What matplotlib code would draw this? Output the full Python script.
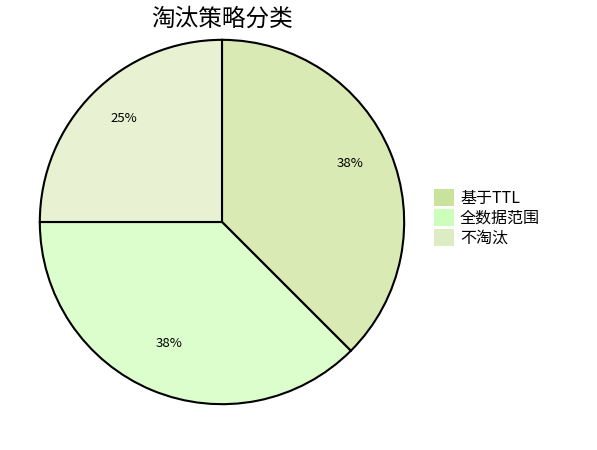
import matplotlib
matplotlib.use("Agg")
import matplotlib.pyplot as plt
from matplotlib.patches import Patch

plt.rcParams['font.family'] = ['Noto Sans CJK SC', 'DejaVu Sans']

categories = ['基于TTL', '全数据范围', '不淘汰']
values = [3, 3, 2]
slice_colors = ['#d9eab5', '#dcfdcc', '#e8f1d1']
legend_colors = ['#c9e29c', '#ccffbb', '#deecc4']
title = '淘汰策略分类'

fig = plt.figure(figsize=(5.97, 4.5), dpi=100)
W, H = 597, 450
cx, cy, r = 222, 222, 184
ax = fig.add_axes([(cx - r) / W, (H - cy - r) / H, 2 * r / W, 2 * r / H])
wedges, texts, autotexts = ax.pie(values, colors=slice_colors, startangle=90, counterclock=False,
       autopct=lambda p: f'{p:.0f}%', pctdistance=0.76, radius=1,
       wedgeprops=dict(edgecolor='black', linewidth=1.5),
       textprops=dict(fontsize=9.5, color='black'))
for t in autotexts:
    x, y = t.get_position()
    t.set_position((x, y + 6 / r))
ax.set_xlim(-1.01, 1.01)
ax.set_ylim(-1.01, 1.01)
ax.set_aspect('equal')
ax.axis('off')

fig.text(cx / W, 1 - 19 / H, title, ha='center', va='center', fontsize=17)

handles = [Patch(facecolor=c, edgecolor='none') for c in legend_colors]
fig.legend(handles, categories, loc='center left', bbox_to_anchor=(428 / W, 1 - 218 / H),
           frameon=False, fontsize=11.5, handlelength=1.2, handleheight=1.2,
           handletextpad=0.4, labelspacing=0.15, borderaxespad=0)

fig.savefig('out.png', dpi=100)
